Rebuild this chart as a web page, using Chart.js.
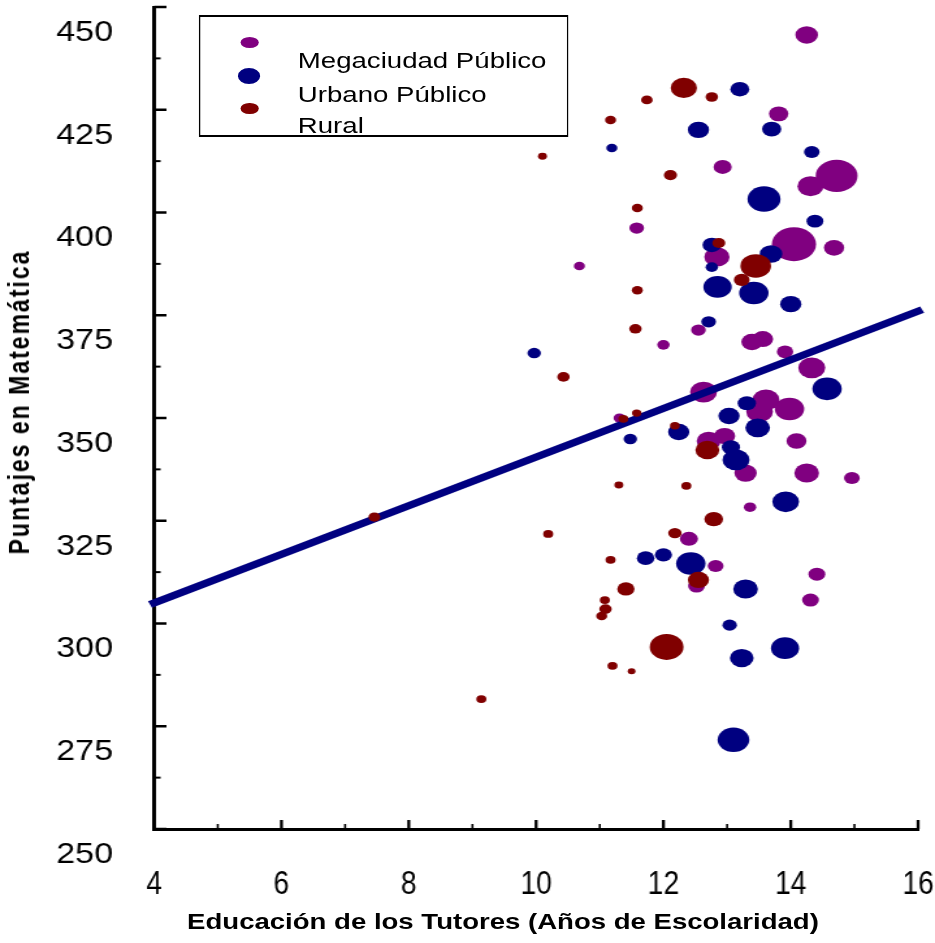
<!DOCTYPE html>
<html>
<head>
<meta charset="utf-8">
<script src="https://cdn.jsdelivr.net/npm/chart.js@4.4.1/dist/chart.umd.min.js"></script>
<style>
  html, body { margin: 0; padding: 0; background: #fff; overflow: hidden; }
  /* the reference is stretched horizontally, so everything is drawn narrow and scaled */
  #wrap { position: relative; width: 719px; height: 943px; transform: scaleX(1.3004); transform-origin: 0 0;
          font-family: 'Liberation Sans', Arial, sans-serif; color: #000; }
  #chart { position: absolute; left: 0; top: 0; }
  .caja { position: absolute; left: 152.5px; top: 15px; width: 284.3px; height: 122.3px;
          border-style: solid; border-color: #000; border-width: 2px 1.5px; box-sizing: border-box; }
  .marca { position: absolute; border-radius: 50%; }
  .texto { position: absolute; left: 229px; font-size: 22px; line-height: 22px; white-space: nowrap;
           transform: scaleX(0.965); transform-origin: 0 0; }
  .titulo { position: absolute; font-weight: bold; white-space: nowrap; line-height: 1; }
</style>
</head>
<body>
<div id="wrap">
  <canvas id="chart" width="719" height="943" style="width:719px;height:943px"></canvas>
  <div class="caja"></div>
  <div class="marca" style="left:184.5px;top:36.5px;width:14px;height:11px;background:#800080"></div>
  <div class="marca" style="left:182.75px;top:68px;width:17.5px;height:16px;background:#000080"></div>
  <div class="marca" style="left:184.5px;top:102.5px;width:14px;height:11.5px;background:#800000"></div>
  <div class="texto" style="top:49.7px">Megaciudad Público</div>
  <div class="texto" style="top:83.7px">Urbano Público</div>
  <div class="texto" style="top:115.4px">Rural</div>
  <div class="titulo" style="left:386.8px;top:922px;font-size:21.2px;transform:translate(-50%,-50%)">Educación de los Tutores (Años de Escolaridad)</div>
  <div class="titulo" style="left:15.4px;top:402px;font-size:23px;letter-spacing:2px;transform:translate(-50%,-50%) rotate(-90deg)">Puntajes en Matemática</div>
</div>
<script>
// Megaciudad Público: educación de los tutores, puntaje, tamaño de la escuela
const megaEduc = [14.25, 13.81, 12.93, 14.72, 14.31, 11.58, 14.05, 14.68, 12.84, 10.68, 12.55,
    12.0, 13.39, 13.56, 13.91, 14.33, 12.63, 13.61, 13.51, 13.98, 11.31, 12.96, 12.71, 14.09,
    13.29, 14.25, 14.96, 13.36, 12.40, 12.82, 12.52, 14.41, 14.31];
const megaPunt = [443.2, 424.0, 411.1, 408.9, 406.4, 396.2, 392.3, 391.4, 389.2, 387.0, 371.4,
    367.8, 368.5, 369.2, 366.1, 362.2, 356.3, 354.4, 351.5, 352.2, 350.0, 345.6, 344.4, 344.4,
    336.6, 336.6, 335.4, 328.3, 320.6, 314.0, 309.1, 312.0, 305.7];
const megaTam = [76, 56, 49, 259, 100, 32, 289, 61, 94, 18, 32, 23, 67, 64, 40, 108, 108, 108,
    106, 128, 21, 67, 85, 59, 74, 90, 37, 23, 49, 37, 42, 42, 42];

// Urbano Público
const urbEduc = [13.20, 12.55, 13.70, 11.19, 14.33, 13.58, 14.38, 13.69, 12.76, 12.76, 12.85,
    13.42, 14.0, 12.71, 9.97, 14.57, 13.31, 13.03, 13.48, 11.48, 12.24, 13.06, 13.14, 13.92,
    11.72, 12.0, 12.43, 13.29, 13.04, 13.91, 13.23, 13.10];
const urbPunt = [430.0, 420.1, 420.3, 415.7, 414.7, 403.3, 397.9, 389.9, 392.1, 386.7, 381.9,
    380.4, 377.7, 373.4, 365.8, 357.1, 353.6, 350.5, 347.6, 344.9, 346.6, 342.9, 339.8, 329.6,
    315.9, 316.7, 314.6, 308.4, 299.6, 294.0, 291.6, 271.7];
const urbTam = [53, 67, 55, 18, 36, 161, 42, 76, 52, 23, 119, 128, 67, 32, 27, 128, 50, 67, 90,
    27, 67, 49, 108, 106, 46, 44, 128, 90, 31, 117, 83, 149];

// Rural
const rurEduc = [7.46, 9.14, 10.10, 10.43, 10.19, 11.17, 11.74, 12.32, 12.76, 12.11, 11.59,
    12.87, 13.45, 13.23, 11.59, 11.56, 11.37, 11.58, 12.18, 12.69, 11.30, 12.36, 12.79, 12.18,
    11.17, 12.55, 11.41, 11.08, 11.09, 11.03, 12.05, 11.20, 11.50];
const rurPunt = [325.9, 281.6, 413.7, 360.0, 321.8, 422.5, 427.4, 430.3, 428.1, 409.1, 401.1,
    392.6, 387.0, 383.6, 381.1, 371.7, 349.8, 351.2, 348.1, 342.2, 333.7, 333.5, 325.4, 322.0,
    315.5, 310.6, 308.4, 305.7, 303.5, 301.8, 294.3, 289.7, 288.4];
const rurTam = [21, 15, 12, 23, 15, 18, 20, 102, 23, 26, 18, 25, 139, 37, 18, 23, 15, 13, 14,
    85, 12, 15, 52, 27, 15, 67, 44, 15, 23, 18, 169, 15, 9];

// recta de tendencia
const rectaEduc = [4, 16];
const rectaPunt = [305.0, 376.0];

const xTicks = [4, 6, 8, 10, 12, 14, 16];
const yTicks = [250, 275, 300, 325, 350, 375, 400, 425, 450];

function burbujas(xs, ys, tam) {
    return xs.map((x, i) => ({x: x, y: ys[i], r: Math.sqrt(tam[i])}));
}

// tick marks point into the plot, with a minor one between labels.
// Labels are drawn here too: the original has them squeezed differently per axis
// and the y ones sit half a step below their tick.
const marcasEje = {
    id: 'marcasEje',
    afterDraw(chart) {
        const {ctx, chartArea: a} = chart;
        const x = chart.scales.x, y = chart.scales.y;
        ctx.save();
        ctx.strokeStyle = '#000';
        ctx.fillStyle = '#000';
        ctx.textBaseline = 'middle';

        ctx.font = "30px 'Liberation Sans', Arial, sans-serif";
        ctx.textAlign = 'right';
        for (let i = 0; i < yTicks.length; i++) {
            const py = y.getPixelForValue(yTicks[i]);
            ctx.lineWidth = 2.5;
            ctx.beginPath(); ctx.moveTo(a.left, py); ctx.lineTo(a.left + 9.5, py); ctx.stroke();
            if (i < yTicks.length - 1) {
                const pm = y.getPixelForValue((yTicks[i] + yTicks[i + 1]) / 2);
                ctx.lineWidth = 2;
                ctx.beginPath(); ctx.moveTo(a.left, pm); ctx.lineTo(a.left + 5, pm); ctx.stroke();
            }
            ctx.save();
            ctx.translate(a.left - 31.6, py + 25.5);
            ctx.scale(0.87, 1);
            ctx.fillText(String(yTicks[i]), 0, 0);
            ctx.restore();
        }

        ctx.font = "34px 'Liberation Sans', Arial, sans-serif";
        ctx.textAlign = 'center';
        for (let i = 0; i < xTicks.length; i++) {
            const px = x.getPixelForValue(xTicks[i]);
            ctx.lineWidth = 2.3;
            ctx.beginPath(); ctx.moveTo(px, a.bottom); ctx.lineTo(px, a.bottom - 9); ctx.stroke();
            if (i < xTicks.length - 1) {
                const pm = x.getPixelForValue((xTicks[i] + xTicks[i + 1]) / 2);
                ctx.lineWidth = 1.6;
                ctx.beginPath(); ctx.moveTo(pm, a.bottom); ctx.lineTo(pm, a.bottom - 5); ctx.stroke();
            }
            ctx.save();
            ctx.translate(px, a.bottom + 56);
            ctx.scale(0.64, 1);
            ctx.fillText(String(xTicks[i]), 0, 0);
            ctx.restore();
        }
        ctx.restore();
    }
};

Chart.defaults.font.family = "'Liberation Sans', Arial, sans-serif";
Chart.defaults.color = '#000';

new Chart(document.getElementById('chart').getContext('2d'), {
    type: 'bubble',
    data: {
        datasets: [
            {
                label: 'Megaciudad Público',
                data: burbujas(megaEduc, megaPunt, megaTam),
                backgroundColor: '#800080',
                borderWidth: 0,
                order: 3,
            },
            {
                label: 'Urbano Público',
                data: burbujas(urbEduc, urbPunt, urbTam),
                backgroundColor: '#000080',
                borderWidth: 0,
                order: 2,
            },
            {
                label: 'Rural',
                data: burbujas(rurEduc, rurPunt, rurTam),
                backgroundColor: '#800000',
                borderWidth: 0,
                order: 0,
            },
            {
                type: 'line',
                data: rectaEduc.map((x, i) => ({x: x, y: rectaPunt[i]})),
                borderColor: '#000080',
                borderWidth: 7,
                borderCapStyle: 'square',
                pointRadius: 0,
                clip: false,
                order: 1,
            },
        ],
    },
    options: {
        animation: false,
        responsive: false,
        devicePixelRatio: 1,
        events: [],
        layout: {autoPadding: false, padding: {top: 7, right: 13, left: 0, bottom: 0}},
        scales: {
            x: {
                type: 'linear',
                min: 4,
                max: 16,
                afterBuildTicks: s => { s.ticks = xTicks.map(v => ({value: v})); },
                afterFit: s => { s.height = 114; s.paddingLeft = 0; s.paddingRight = 0; },
                grid: {display: false, drawTicks: false},
                border: {display: true, width: 3, color: '#000'},
                ticks: {display: false},
            },
            y: {
                min: 250,
                max: 450,
                afterBuildTicks: s => { s.ticks = yTicks.map(v => ({value: v})); },
                afterFit: s => { s.width = 118.5; s.paddingTop = 0; s.paddingBottom = 0; },
                grid: {display: false, drawTicks: false},
                border: {display: true, width: 3, color: '#000'},
                ticks: {display: false},
            },
        },
        plugins: {
            legend: {display: false},
            tooltip: {enabled: false},
        },
    },
    plugins: [marcasEje],
});
</script>
</body>
</html>
